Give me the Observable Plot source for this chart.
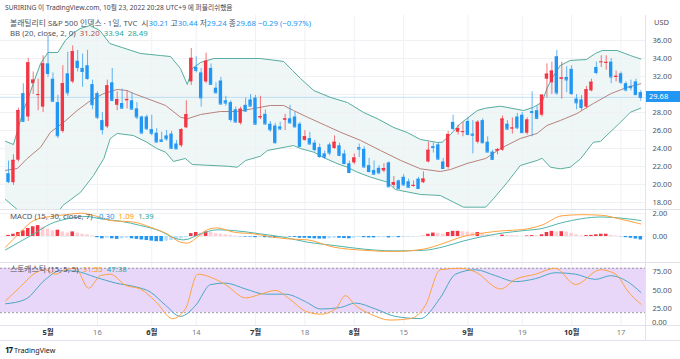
<!DOCTYPE html>
<html><head><meta charset="utf-8">
<script src="https://cdn.jsdelivr.net/npm/d3@7"></script>
<script src="https://cdn.jsdelivr.net/npm/@observablehq/plot@0.6"></script>
<style>
body{margin:0;background:#fff;}
#wrap{position:relative;width:680px;height:359px;overflow:hidden;font-family:"Noto Sans","Noto Sans CJK KR",sans-serif;}
.pane{position:absolute;left:0;}
.t{position:absolute;white-space:nowrap;font-size:8px;line-height:10px;color:#50535e;}
.hl{position:absolute;background:#e0e3eb;}
</style></head>
<body><div id="wrap"></div>
<script>
// ---------- DATA ----------
// daily candles, index 0 = 2022-04-20 ... 128 = 2022-10-21
const opens = [21.2,20.2,22.7,30.1,27.5,31.2,29.95,28.6,33.4,31.7,29.1,25.9,32.3,31.4,33.7,32.9,33.2,31.1,30.1,27.1,
26.4,31.3,28.8,29.0,29.3,29.3,28.4,27.5,27.5,26.1,25.7,24.95,25.4,25.6,24.5,24.3,26.3,31.4,33.0,32.4,
31.4,32.9,30.7,31.5,29.3,29.1,28.3,26.8,28.8,29.4,29.6,27.4,27.8,26.7,26.5,26.4,27.15,27.3,27.5,26.7,
24.9,25.1,24.6,24.1,23.4,24.4,24.0,24.3,23.4,22.3,22.4,24.1,23.9,22.1,21.55,21.8,21.5,22.4,19.9,20.4,
20.8,20.3,19.8,20.6,20.2,22.5,24.2,24.4,22.5,21.9,26.9,25.8,25.8,27.0,25.6,24.7,27.1,24.7,23.6,23.7,
23.8,26.7,26.2,27.5,27.7,25.7,28.1,28.2,27.7,31.7,31.3,34.2,31.7,31.9,32.8,29.5,29.4,28.6,30.4,33.0,
33.6,33.5,33.6,31.9,32.3,31.2,30.9,31.4,30.21];
const highs = [22.6,23.3,28.5,31.2,34.0,32.5,31.7,34.3,36.5,32.4,29.9,33.2,34.7,35.4,34.9,34.5,34.9,31.6,30.3,28.0,
31.6,32.9,30.3,30.6,30.4,30.2,29.1,27.6,27.7,27.7,26.2,25.8,26.0,25.9,24.9,26.2,29.3,35.1,34.2,32.9,
34.6,33.4,31.3,31.9,29.8,29.3,28.6,28.6,29.6,30.0,29.9,29.8,28.3,27.0,26.8,26.9,27.8,28.8,28.0,26.9,
26.0,25.8,24.9,24.5,23.7,24.6,25.4,24.6,23.8,22.6,23.4,24.5,24.2,22.9,22.6,22.1,22.3,22.5,20.9,20.5,
21.1,20.6,20.4,20.8,21.4,24.7,24.6,24.6,22.9,25.9,27.7,26.6,26.9,27.4,27.1,27.1,27.3,25.3,23.8,24.0,
27.6,27.1,27.4,27.9,28.0,27.4,30.3,28.7,30.0,33.4,33.6,34.9,33.6,33.1,33.2,30.0,29.9,30.9,31.7,33.6,
34.3,34.3,34.0,32.6,32.5,31.4,31.6,31.7,30.44];
const lows = [20.1,19.9,22.5,26.9,27.0,30.0,28.2,28.0,31.9,29.1,25.1,25.7,29.8,31.2,32.5,30.8,31.6,28.3,27.2,25.5,
26.2,29.2,28.2,28.4,28.4,28.3,27.2,25.6,26.0,25.4,24.6,24.7,24.8,23.9,23.9,24.1,26.2,31.0,32.4,28.6,
31.2,31.0,30.1,28.8,28.7,26.9,26.8,26.6,28.0,28.6,26.6,27.2,26.6,25.8,24.5,26.0,26.0,26.7,26.3,24.1,
24.8,24.4,23.6,22.9,22.8,23.2,23.9,23.1,22.2,21.2,22.2,23.0,21.8,21.3,21.0,21.1,21.3,19.7,19.6,19.5,
19.8,19.6,19.7,19.5,20.1,22.4,23.5,22.7,21.7,21.7,26.0,25.5,25.3,25.4,23.4,24.5,24.5,23.5,22.7,23.3,
23.7,26.0,25.6,26.1,25.7,25.5,25.3,27.2,27.5,29.6,30.0,29.9,29.5,30.2,29.9,28.3,28.2,28.4,30.3,32.2,
33.0,32.7,31.2,31.4,31.1,30.3,30.4,29.9,29.24];
const closes = [20.32,22.68,28.21,27.02,33.52,31.60,29.99,33.40,32.34,29.25,25.42,31.20,30.19,34.75,32.99,32.56,31.77,28.87,27.47,26.10,
30.96,29.35,29.43,28.48,29.45,28.37,27.50,25.72,26.19,25.69,24.72,24.79,25.07,24.02,23.96,26.09,27.75,34.02,32.69,29.62,
33.70,31.13,30.19,28.95,29.05,27.23,26.95,28.36,28.16,28.71,26.70,27.54,26.73,26.08,24.64,26.17,27.29,26.85,26.40,24.23,
25.30,24.50,23.88,23.11,23.03,23.50,24.69,23.24,22.33,21.33,22.94,23.93,21.95,21.44,21.15,21.29,21.77,19.74,20.20,19.53,
19.95,19.69,19.90,19.56,20.60,23.80,24.11,22.82,21.78,25.56,26.21,26.21,25.87,25.56,25.47,26.91,24.64,23.61,22.79,23.87,
27.27,26.16,26.27,26.30,25.76,27.16,27.99,27.35,29.92,32.26,32.60,30.18,31.84,31.62,30.10,29.07,28.55,30.52,31.36,32.45,
33.63,33.57,31.94,32.02,31.37,30.50,30.76,29.98,29.68];

// Bollinger Bands (20, close, 2): [bar index, value]
const bbUpper = [[-0.6,24.8],[1,24.44],[2,26.33],[3,28.22],[4,29.56],[5,31.22],[6.5,33.44],[8,34.67],[10,34.67],[11.5,36.0],[13,36.78],[14.5,37.33],[16.5,37.67],[18.5,37.11],[20.5,35.67],[23,35.22],[26.7,34.56],[30.8,34.33],[32.8,34.22],[34.8,32.89],[36.2,31.11],[37.2,32.89],[38.9,33.56],[41.6,34.0],[51,34.0],[55.7,33.67],[57.5,32.67],[59.1,31.78],[61.8,30.44],[65.2,29.67],[68.6,29.11],[71.9,28.0],[74.6,27.33],[78,26.33],[80.7,25.78],[83.4,25.0],[86.8,24.67],[87.8,24.7],[89.5,25.56],[91.5,26.78],[94.9,28.22],[96.6,28.48],[99.6,28.7],[104.3,28.22],[106.3,28.59],[108,29.14],[109,30.67],[110,31.78],[111.7,33.22],[113.7,33.78],[117,33.89],[118.8,34.56],[120.2,34.89],[123.2,34.89],[125.9,34.33],[128,33.94]];
const bbBasis = [[-0.6,21.56],[1.8,21.78],[3.8,22.89],[6.5,24.14],[8.5,25.81],[11.2,26.92],[13.9,28.22],[16.6,29.33],[19.3,30.11],[22,30.56],[24,30.44],[25.3,30.11],[28,29.56],[31.8,28.78],[34.8,27.48],[36.2,27.3],[38.9,27.78],[42.9,28.11],[46.3,28.11],[49.6,28.44],[53,28.78],[55.7,28.78],[57.7,28.22],[60.5,27.48],[64.2,26.56],[67.2,25.81],[71.3,24.89],[75.3,23.78],[79.4,22.67],[83.4,21.74],[87.4,21.44],[89.5,21.67],[92.8,22.33],[96.6,22.89],[99.6,24.0],[103.6,25.11],[107,25.67],[109,26.56],[111.7,27.11],[115.1,27.89],[118.4,29.0],[122,30.11],[125.3,30.81],[128,31.20]];
const bbLower = [[-0.6,18.33],[1.8,17.2],[4,16.4],[7,16.1],[10,16.9],[11,17.67],[14.6,19.14],[17.2,21.0],[19.3,22.89],[20.6,25.11],[22,25.67],[25.3,25.44],[28,24.7],[30,24.0],[31.8,23.59],[33.4,22.56],[35.8,22.89],[37.2,22.22],[44.3,22.03],[46.3,21.92],[48,22.67],[51,23.14],[52.4,23.78],[57.7,24.33],[59.1,24.0],[61.8,23.59],[64.2,22.89],[66.5,22.33],[68.6,21.92],[70.6,21.37],[73.3,20.81],[76.7,20.26],[78.3,19.44],[83.4,18.89],[87.4,18.78],[90.1,18.03],[92.1,17.48],[96.6,17.48],[98.2,18.44],[101,20.26],[103.6,22.11],[107,22.67],[108,22.92],[109.7,21.92],[111.7,21.74],[113.7,21.92],[115.8,22.86],[118.4,24.7],[119.8,24.78],[123.9,26.92],[125.9,28.03],[128,28.49]];

// MACD (15, 30, close, 7)
const macdLine = [[-0.6,-0.93],[2.4,0.38],[5.1,1.39],[8.5,1.74],[11.9,1.91],[14.6,2.03],[18,1.74],[20.6,1.39],[25.4,1.25],[28.7,0.81],[32.1,0.23],[34.8,-0.49],[36.2,-0.58],[38.2,-0.06],[40.2,0.58],[42.2,0.75],[45.6,0.38],[49.7,0.23],[53.7,-0.06],[56.4,-0.2],[60.5,-0.29],[65.9,-0.93],[72,-1.2],[78,-1.3],[84,-1.1],[88,-0.6],[92,0.0],[96,0.3],[100,0.5],[104,0.6],[108,1.0],[112,1.8],[116,1.9],[120,1.85],[124,1.5],[128,1.09]];
const signalLine = [[-0.6,-1.16],[5.1,0.23],[8.5,1.10],[11.9,1.54],[15.9,1.74],[18.6,1.54],[22.7,1.33],[26.7,0.96],[30.8,0.46],[33.5,-0.12],[35.5,-0.29],[38.9,0.23],[42.2,0.58],[45.6,0.52],[51,0.23],[55.7,-0.06],[60.5,-0.49],[65.9,-0.78],[72,-1.1],[78,-1.25],[84,-1.2],[88,-0.9],[92,-0.4],[96,0.0],[100,0.3],[104,0.5],[108,0.7],[112,1.2],[116,1.55],[120,1.7],[124,1.6],[128,1.39]];
const histogram = [0.1,0.2,0.35,0.5,0.7,0.85,0.95,0.8,0.65,0.5,0.55,0.4,0.3,0.4,0.3,0.2,0.15,0.05,-0.1,-0.2,
-0.15,-0.2,-0.25,-0.2,-0.15,-0.2,-0.25,-0.3,-0.35,-0.4,-0.45,-0.45,-0.4,-0.35,-0.3,-0.2,-0.1,0.25,0.35,0.3,
0.4,0.35,0.25,0.2,0.15,0.1,0.05,-0.02,-0.05,-0.05,-0.1,-0.08,-0.1,-0.12,-0.15,-0.1,-0.05,-0.05,-0.08,-0.15,
-0.15,-0.18,-0.2,-0.22,-0.22,-0.2,-0.15,-0.15,-0.18,-0.2,-0.15,-0.08,-0.1,-0.12,-0.12,-0.1,-0.08,-0.12,-0.1,-0.1,
-0.08,-0.06,-0.04,-0.03,0.02,0.2,0.3,0.28,0.2,0.35,0.45,0.45,0.42,0.38,0.32,0.35,0.25,0.15,0.05,0.02,
0.12,0.1,0.08,0.06,0.02,0.05,0.08,0.06,0.15,0.35,0.45,0.4,0.42,0.38,0.28,0.15,0.05,0.08,0.1,0.15,
0.2,0.2,0.1,0.05,-0.02,-0.1,-0.15,-0.22,-0.30];

// Stochastic (15, 5, 5): %K (orange) and %D
const stochK = [[-0.6,36],[2.4,55],[5.5,74],[7.5,78],[9.5,72],[11.5,78],[13.6,80],[16.2,53],[18.6,70],[20.6,72],[23.7,57],[26.7,52],[29.8,35],[33.2,12],[35.8,25],[38.3,72],[40.9,68],[43.9,58],[48,40],[51,45],[54,50],[57,38],[60.1,22],[63.2,18],[66.2,25],[68.2,43],[70.2,30],[73.3,18],[77.3,10],[81.4,12],[84.4,30],[87.4,78],[91.5,80],[94.5,75],[99.6,52],[102.6,65],[106.7,72],[110.7,80],[114.8,58],[119.8,78],[122.9,72],[125.5,48],[128,31.55]];
const stochD = [[-0.6,32],[3.4,38],[7.5,65],[10.5,77],[13.6,76],[17.6,68],[21.7,60],[25.7,55],[28.7,48],[31.8,30],[34.8,15],[37.9,30],[40.9,58],[43.9,60],[48,52],[52,45],[56.1,45],[60.1,35],[63.2,25],[67.2,27],[70.2,33],[74.3,25],[78.3,15],[83.4,12],[87.4,40],[90.5,72],[94.5,78],[98.6,70],[102.6,62],[106.7,66],[110.7,74],[114.8,72],[118.8,65],[121.9,70],[125.3,62],[128,47.38]];

// x-axis ticks (bar index) and labels
const tickIdx    = [8, 18, 29, 38, 50, 60, 70, 80, 93, 104, 114, 124];
const tickLabels = ["5월","16","6월","14","7월","18","8월","15","9월","19","10월","17"];
const tickMonth  = [true,false,true,false,true,false,true,false,true,false,true,false];
const priceGrid  = [18,20,22,24,26,28,30,32,34,36];
const priceTicks = [18,20,22,24,26,28,32,34,36];   // 30.00 sits under the last-price tag
const macdTicks  = [0,2];
const stochTicks = [25,50,75];
const lastClose = 29.68;

// ---------- DRAWING ----------
const RED="#f23645", BLUE="#2196f3", BAND="#57ad9f", BASIS="#b8827c", ORANGE="#ffa23e", TEAL="#4db6ac", GRID="#f0f1f5";
const W=680, MR=35, XD=[-1.62,128.95];
const FONT = "'Noto Sans','Noto Sans CJK KR',sans-serif";
const wrap = document.getElementById("wrap");
const bars = closes.map((c,i)=>({i,o:opens[i],h:highs[i],l:lows[i],c}));
const col = d => d.c >= d.o ? RED : BLUE;
const pts = a => a.map(([i,v])=>({i,v}));

function place(el, top){const d=document.createElement("div");d.className="pane";d.style.top=top+"px";d.appendChild(el);wrap.appendChild(d);return d;}
function txt(html,x,y,style){const d=document.createElement("div");d.className="t";d.style.left=x+"px";d.style.top=y+"px";if(style)d.style.cssText+=style;d.innerHTML=html;wrap.appendChild(d);return d;}
function hline(y,x0,x1){const d=document.createElement("div");d.className="hl";d.style.cssText+=`left:${x0}px;top:${y}px;width:${x1-x0}px;height:1px;`;wrap.appendChild(d);}
function vline(x,y0,y1){const d=document.createElement("div");d.className="hl";d.style.cssText+=`left:${x}px;top:${y0}px;width:1px;height:${y1-y0}px;`;wrap.appendChild(d);}

const YMAIN=[17.22,38.78];
const axisOpts = {anchor:"right",tickSize:0,tickPadding:7,tickFormat:d=>d.toFixed(2),fontSize:7.5,fill:"#50535e",label:null};
const main = Plot.plot({
  width:W, height:194, marginTop:0, marginBottom:0, marginLeft:0, marginRight:MR,
  style:{fontFamily:FONT, background:"transparent"},
  x:{domain:XD, axis:null}, y:{domain:YMAIN, axis:null},
  marks:[
    Plot.areaY(pts(bbUpper),{x:"i",y1:YMAIN[0],y2:"v",fill:"#eff6f6",clip:true}),
    Plot.areaY(pts(bbLower),{x:"i",y1:YMAIN[0]-5,y2:"v",fill:"#ffffff",clip:true}),
    Plot.ruleY(priceGrid,{stroke:GRID}),
    Plot.ruleX(tickIdx,{stroke:GRID}),
    Plot.line(pts(bbUpper),{x:"i",y:"v",stroke:BAND,strokeWidth:1,clip:true}),
    Plot.line(pts(bbLower),{x:"i",y:"v",stroke:BAND,strokeWidth:1,clip:true}),
    Plot.line(pts(bbBasis),{x:"i",y:"v",stroke:BASIS,strokeWidth:1,clip:true}),
    Plot.ruleY([lastClose],{stroke:BLUE,strokeOpacity:0.25}),
    Plot.ruleX(bars,{x:"i",y1:"l",y2:"h",stroke:col,strokeOpacity:0.7}),
    Plot.rect(bars,{x1:d=>d.i-0.34,x2:d=>d.i+0.34,y1:"o",y2:"c",fill:col}),
    Plot.ruleY(bars,{x1:d=>d.i-0.34,x2:d=>d.i+0.34,y:"c",stroke:col}),
    Plot.axisY(priceTicks,axisOpts)
  ]
});
place(main,15);

const hist = histogram.map((v,i)=>{const p=i>0?histogram[i-1]:0;return {i,v,f: v>=0 ? (v>=p?RED:"#ffcdd2") : (v<=p?BLUE:"#bbdefb")};});
const macd = Plot.plot({
  width:W, height:53, marginTop:0, marginBottom:0, marginLeft:0, marginRight:MR,
  style:{fontFamily:FONT, background:"transparent"},
  x:{domain:XD, axis:null}, y:{domain:[-2.26,2.35], axis:null},
  marks:[
    Plot.ruleY(macdTicks,{stroke:GRID}),
    Plot.ruleX(tickIdx,{stroke:GRID}),
    Plot.rect(hist,{x1:d=>d.i-0.36,x2:d=>d.i+0.36,y1:0,y2:"v",fill:"f"}),
    Plot.line(pts(signalLine),{x:"i",y:"v",stroke:TEAL,strokeWidth:1,curve:"monotone-x"}),
    Plot.line(pts(macdLine),{x:"i",y:"v",stroke:ORANGE,strokeWidth:1,curve:"monotone-x"}),
    Plot.axisY(macdTicks,axisOpts)
  ]
});
place(macd,209);

const stoch = Plot.plot({
  width:W, height:78, marginTop:0, marginBottom:15, marginLeft:0, marginRight:MR,
  style:{fontFamily:FONT, background:"transparent"},
  x:{domain:XD, axis:null}, y:{domain:[2.7,87.8], axis:null},
  marks:[
    Plot.ruleY(stochTicks,{stroke:GRID}),
    Plot.ruleX(tickIdx,{stroke:GRID}),
    Plot.rect([0],{x1:XD[0],x2:XD[1],y1:20,y2:80,fill:"#e9d7fa"}),
    Plot.ruleY([20,80],{stroke:"#9598a1",strokeDasharray:"2,2"}),
    Plot.line(pts(stochD),{x:"i",y:"v",stroke:"#4aa6c4",strokeWidth:1,curve:"monotone-x"}),
    Plot.line(pts(stochK),{x:"i",y:"v",stroke:ORANGE,strokeWidth:1,curve:"monotone-x"}),
    Plot.axisY(stochTicks,axisOpts),
    Plot.axisX(tickIdx.filter((d,k)=>tickMonth[k]),{anchor:"bottom",tickSize:0,tickPadding:4,fontSize:7.5,fontWeight:"bold",fill:"#2a2e39",label:null,tickFormat:d=>tickLabels[tickIdx.indexOf(d)]}),
    Plot.axisX(tickIdx.filter((d,k)=>!tickMonth[k]),{anchor:"bottom",tickSize:0,tickPadding:4,fontSize:7.5,fill:"#787b86",label:null,tickFormat:d=>tickLabels[tickIdx.indexOf(d)]})
  ]
});
place(stoch,262);

// pane separators
hline(209,0,680); hline(262,0,680); hline(325,0,680); hline(340,0,680);
vline(645,15,340);

// price label box
const yLast = main.scale("y").apply(lastClose)+15;
txt(lastClose.toFixed(2),646,yLast-5.5,"background:#2196f3;color:#fff;width:32px;padding-left:3px;height:11px;line-height:11px;font-size:7.5px;");
txt("0.00",652,317,"font-size:7.5px;");
txt("USD",654,17,"font-size:7.5px;");

// headers
txt("SURIRING 이 TradingView.com, 10월 23, 2022 20:28 UTC+9 에 퍼블리쉬했음",5,3,"font-size:6.7px;color:#434651;");
const B = s=>`<span style="color:#2196f3">${s}</span>`;
txt(`볼래틸리티 S&amp;P 500 인덱스 · 1일, TVC &nbsp;시${B("30.21")} 고${B("30.44")} 저${B("29.24")} 종${B("29.68")} ${B("−0.29 (−0.97%)")}`,10,18,"font-size:7.8px;");
txt(`BB (20, close, 2, 0) &nbsp;<span style="color:#b0524d">31.20</span> &nbsp;<span style="color:#26a69a">33.94</span> &nbsp;<span style="color:#26a69a">28.49</span>`,10,28,"font-size:7.8px;");
txt(`MACD (15, 30, close, 7) &nbsp;<span style="color:#2196f3">-0.30</span> &nbsp;<span style="color:#ff9800">1.09</span> &nbsp;<span style="color:#26a69a">1.39</span>`,10,211,"font-size:7.8px;");
txt(`스토캐스틱 (15, 5, 5) &nbsp;<span style="color:#ff9800">31.55</span> &nbsp;<span style="color:#26a69a">47.38</span>`,10,264,"font-size:7.8px;");
txt(`<b style="color:#131722;letter-spacing:-1px;font-size:8px">17</b>&nbsp;TradingView`,5,345,"font-size:7.2px;color:#131722;");
</script></body></html>
